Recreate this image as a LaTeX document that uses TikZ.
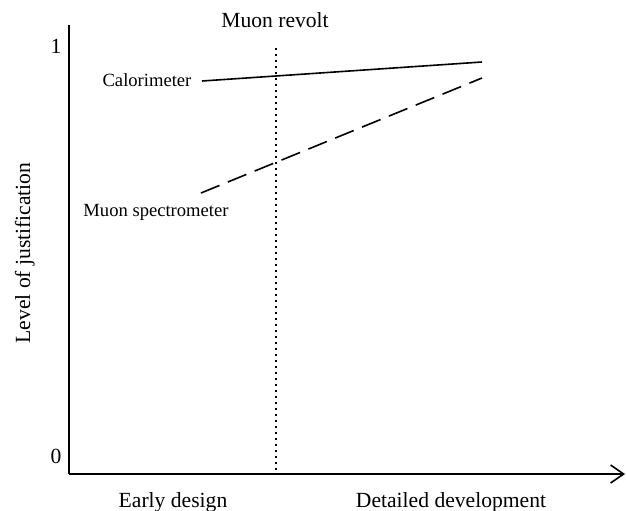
\documentclass[tikz,border=0pt]{standalone}
\usepackage{fontspec}
\setmainfont{Liberation Serif}
\usetikzlibrary{arrows.meta}

\tikzset{
  axislabel/.style={font=\fontsize{10.8}{13}\selectfont, inner sep=0pt},
  curvelabel/.style={font=\fontsize{9.3}{11}\selectfont, inner sep=0pt},
  axisline/.style={line width=0.8pt},
  curve/.style={line width=0.8pt},
}

\begin{document}
\begin{tikzpicture}[x=0.5pt, y=-0.5pt]
        \useasboundingbox (0,0) rectangle (626,510);
        % axes
        \coordinate (origin) at (69,474);
        \coordinate (ytop) at (69,25);
        \coordinate (xend) at (625,474);
        \draw [axisline] (ytop) -- (origin);
        \draw [axisline, -{Straight Barb[length=6.5pt, width=9pt]}] (origin) -- (xend);
        \node [axislabel, anchor=base] (one) at (56,53) {1};
        \node [axislabel, anchor=base] (zero) at (56,463) {0};
        \node [axislabel, anchor=base, rotate=90] (ylabel) at (30,253) {Level of justification};
        \node [axislabel, anchor=base] (early) at (173,507) {Early design};
        \node [axislabel, anchor=base] (detailed) at (451,507) {Detailed development};
        % muon revolt
        \node [axislabel, anchor=base] (revolt) at (275,27) {Muon revolt};
        \coordinate (revolttop) at (276,48);
        \coordinate (revoltbot) at (276,474);
        \draw [line width=0.8pt, dash pattern=on 1pt off 2pt] (revolttop) -- (revoltbot);
        % curves
        \node [curvelabel, anchor=base] (calo) at (147,86) {Calorimeter};
        \node [curvelabel, anchor=base] (spectro) at (156,216) {Muon spectrometer};
        \coordinate (calostart) at (202,81);
        \coordinate (caloend) at (482,62);
        \coordinate (spectrostart) at (201,193);
        \coordinate (spectroend) at (482,78);
        \draw [curve] (calostart) -- (caloend);
        \draw [curve, dash pattern=on 10pt off 4.5pt] (spectrostart) -- (spectroend);
\end{tikzpicture}
\end{document}
